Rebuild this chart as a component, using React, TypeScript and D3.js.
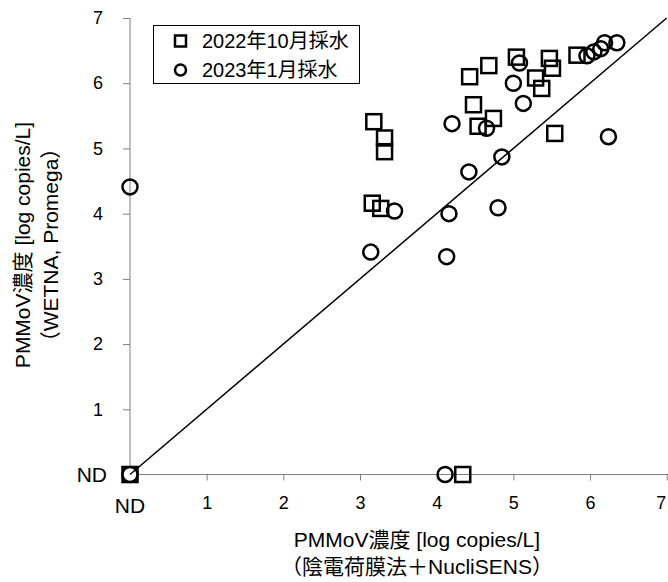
import * as d3 from "d3";
import React, { useRef, useEffect } from "react";

// x: 陰電荷膜法＋NucliSENS, y: WETNA, Promega (0 = ND)
const oct2022X = [3.18, 3.32, 3.32, 3.16, 3.27, 4.43, 4.68, 5.04, 5.47, 5.51, 5.29, 5.37, 5.83, 4.48, 4.74, 4.54, 5.54, 0, 4.34];
const oct2022Y = [5.41, 5.16, 4.95, 4.16, 4.08, 6.10, 6.27, 6.40, 6.38, 6.23, 6.08, 5.92, 6.43, 5.67, 5.46, 5.34, 5.23, 0, 0];

const jan2023X = [5.08, 5.0, 5.13, 4.2, 4.65, 6.24, 4.85, 4.42, 4.8, 4.16, 3.45, 3.14, 4.13, 0, 5.96, 6.05, 6.14, 6.19, 6.35, 4.11, 0];
const jan2023Y = [6.31, 6.0, 5.69, 5.38, 5.31, 5.18, 4.87, 4.64, 4.09, 4.0, 4.04, 3.41, 3.34, 4.41, 6.42, 6.48, 6.53, 6.62, 6.62, 0, 0];

const ticks = [0, 1, 2, 3, 4, 5, 6, 7];
const legendLabels = ["2022年10月採水", "2023年1月採水"];
const xTitle = ["PMMoV濃度 [log copies/L]", "（陰電荷膜法＋NucliSENS）"];
const yTitle = ["PMMoV濃度 [log copies/L]", "（WETNA, Promega）"];

const App = () => {
    const svgRef = useRef<HTMLDivElement>(null);

    useEffect(() => {
        document.body.style.margin = "0";
        const width = 668;
        const height = 582;
        const marginLeft = 130;
        const marginTop = 18;
        const font = "'Liberation Sans', Arial, 'Noto Sans CJK JP', sans-serif";

        const x = d3.scaleLinear().domain([0, 7]).range([marginLeft, 666.7]);
        const y = d3.scaleLinear().domain([0, 7]).range([474.5, marginTop]);

        const squares = oct2022X.map((v, i) => ({ x: v, y: oct2022Y[i] }));
        const circles = jan2023X.map((v, i) => ({ x: v, y: jan2023Y[i] }));

        const svg = d3.create("svg")
            .attr("width", width)
            .attr("height", height)
            .style("display", "block")
            .attr("font-family", font);

        svg.append("rect").attr("width", width).attr("height", height).attr("fill", "#fff");

        // axes
        const axisColor = "#7f7f7f";
        svg.append("g")
            .attr("transform", `translate(0,${y(0)})`)
            .call(d3.axisBottom(x).tickValues(ticks.slice(1)).tickSize(6).tickFormat(d3.format("d")))
            .call(g => g.select(".domain").attr("stroke", axisColor).attr("d", `M${x(0)},0H${width}`))
            .call(g => g.selectAll(".tick line").attr("stroke", axisColor))
            .call(g => g.selectAll(".tick text")
                .attr("fill", "#000").attr("font-size", 18).attr("font-family", font).attr("dy", 0).attr("y", 34)
                .attr("x", (d: any) => (d === 7 ? -6 : 0)));

        svg.append("g")
            .attr("transform", `translate(${x(0)},0)`)
            .call(d3.axisLeft(y).tickValues(ticks.slice(1)).tickSize(7).tickFormat(d3.format("d")))
            .call(g => g.select(".domain").attr("stroke", axisColor).attr("d", `M0,${y(7)}V${y(0)}`))
            .call(g => g.selectAll(".tick line").attr("stroke", axisColor))
            .call(g => g.selectAll(".tick text")
                .attr("fill", "#000").attr("font-size", 18).attr("font-family", font).attr("x", -27));

        // ND labels
        svg.append("text").attr("x", x(0)).attr("y", 513).attr("text-anchor", "middle")
            .attr("font-size", 21).text("ND");
        svg.append("text").attr("x", 107).attr("y", y(0) + 7).attr("text-anchor", "end")
            .attr("font-size", 21).text("ND");

        // 1:1 line
        const line = d3.line<number>().x(d => x(d)).y(d => y(d));

        // markers
        const size = 15;
        svg.append("g")
            .selectAll("rect")
            .data(squares)
            .join("rect")
            .attr("x", d => x(d.x) - size / 2)
            .attr("y", d => y(d.y) - size / 2)
            .attr("width", size)
            .attr("height", size)
            .attr("fill", d => (d.x === 0 && d.y === 0 ? "#000" : "none"))
            .attr("stroke", "#000")
            .attr("stroke-width", 2.5);

        svg.append("g")
            .selectAll("circle")
            .data(circles)
            .join("circle")
            .attr("cx", d => x(d.x))
            .attr("cy", d => y(d.y))
            .attr("r", 7.5)
            .attr("fill", d => (d.x === 0 && d.y === 0 ? "#fff" : "none"))
            .attr("stroke", "#000")
            .attr("stroke-width", 2.5);

        svg.append("path")
            .datum([0, 7])
            .attr("d", line)
            .attr("fill", "none")
            .attr("stroke", "#000")
            .attr("stroke-width", 1.5);

        // legend
        const legend = svg.append("g");
        legend.append("rect")
            .attr("x", 153.5).attr("y", 25.5).attr("width", 206).attr("height", 58)
            .attr("fill", "#fff").attr("stroke", "#000").attr("stroke-width", 1);
        legendLabels.forEach((label, i) => {
            const cy = 41 + i * 29;
            if (i === 0) {
                legend.append("rect").attr("x", 175).attr("y", cy - 5.5).attr("width", 11).attr("height", 11)
                    .attr("fill", "none").attr("stroke", "#000").attr("stroke-width", 2.5);
            } else {
                legend.append("circle").attr("cx", 180.5).attr("cy", cy).attr("r", 5.5)
                    .attr("fill", "none").attr("stroke", "#000").attr("stroke-width", 2.5);
            }
            legend.append("text").attr("x", 202).attr("y", cy + 7).attr("font-size", 20).text(label);
        });

        // axis titles
        xTitle.forEach((t, i) => {
            svg.append("text").attr("x", 417).attr("y", 547 + i * 27).attr("text-anchor", "middle")
                .attr("font-size", 21).text(t);
        });
        yTitle.forEach((t, i) => {
            svg.append("text")
                .attr("transform", `translate(${30 + i * 28},245) rotate(-90)`)
                .attr("text-anchor", "middle")
                .attr("font-size", 21).text(t);
        });

        if (svgRef.current) {
            svgRef.current.innerHTML = "";
            svgRef.current.appendChild(svg.node()!);
        }
    }, []);

    return <div ref={svgRef}></div>;
};

export default App;
